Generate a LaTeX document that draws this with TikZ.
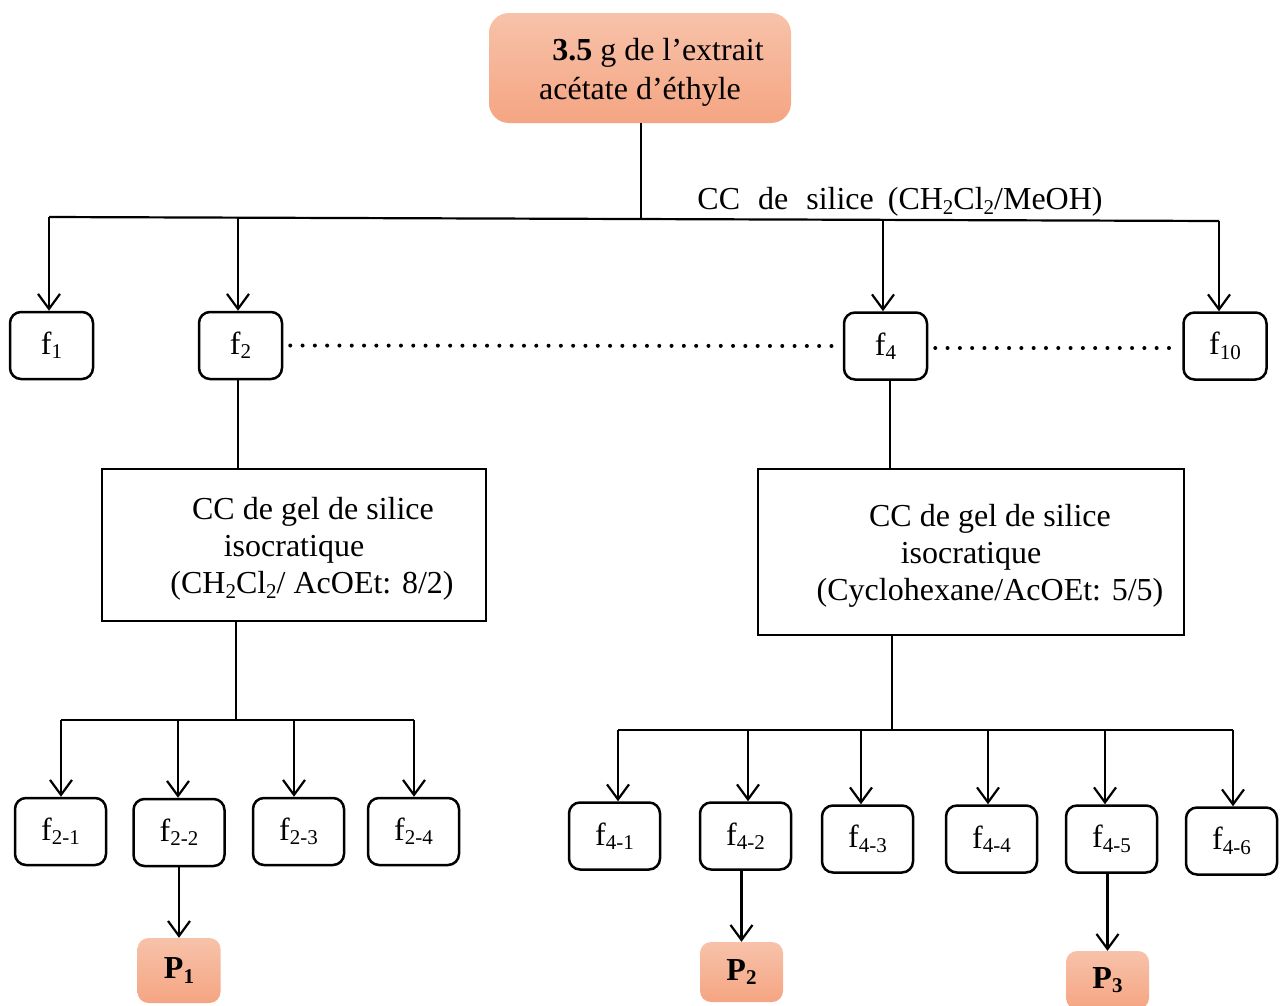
\documentclass[tikz,border=0pt]{standalone}
\usepackage{fontspec}
\setmainfont{Liberation Serif}
\usetikzlibrary{arrows.meta}
\newcommand\sbs[1]{\raisebox{-0.3ex}{\fontsize{21}{21}\selectfont #1}}
\definecolor{salmonT}{RGB}{247,194,170}
\definecolor{salmonB}{RGB}{245,165,130}
\begin{document}
\begin{tikzpicture}[x=1pt,y=-1pt,
  font=\fontsize{32}{37}\selectfont,
  fbox/.style={draw, line width=2.5pt, rounded corners=11pt, minimum width=83pt, minimum height=67pt, inner sep=0pt},
  gbox/.style={fbox, minimum width=91pt},
  pbox/.style={rounded corners=11pt, top color=salmonT, bottom color=salmonB, minimum width=83pt, inner sep=0pt, font=\fontsize{32}{37}\selectfont\bfseries},
  tbox/.style={draw, line width=2.5pt, inner sep=0pt},
  intext/.style={align=center, yshift=-4pt},
  ln/.style={line width=2.2pt},
  arr/.style={ln, -{Straight Barb[length=15pt,width=22pt]}},
  dots/.style={line width=4pt, line cap=round, dash pattern=on 0pt off 12.3pt}]
\useasboundingbox (0,0) rectangle (1280,1005);

% source
\node[rounded corners=20pt, top color=salmonT, bottom color=salmonB, minimum width=302pt, minimum height=110pt, inner sep=0pt,
  label={[intext, font=\fontsize{32}{39}\selectfont]center:{\hspace*{36pt}\textbf{3.5} g de l’extrait\\acétate d’éthyle}}] (src) at (640,68) {};

% first level
\coordinate (hL) at (49,217);
\coordinate (hR) at (1219,221);
\coordinate (hM) at (641,218.5);
\coordinate (j2) at (238,218);
\coordinate (j4) at (883,219.5);
\draw[ln] (src.south -| hM) -- (hM);
\draw[ln] (hL) -- (hR);
\node (cclab) at (900,202) {CC\hspace{18pt}de\hspace{18pt}silice\hspace{14pt}(CH\sbs{2}Cl\sbs{2}/MeOH)};

\node[fbox] (f1) at (51.5,345.5) {f\sbs{1}};
\node[fbox] (f2) at (240.5,345.5) {f\sbs{2}};
\node[fbox] (f4) at (885.5,346) {f\sbs{4}};
\node[fbox] (f10) at (1225,346) {f\sbs{10}};

\draw[arr] (hL) -- (hL |- f1.north);
\draw[arr] (j2) -- (j2 |- f2.north);
\draw[arr] (j4) -- (j4 |- f4.north);
\draw[arr] (hR) -- (hR |- f10.north);

\draw[dots] ([xshift=7pt]f2.east) -- ([xshift=-6pt]f4.west);
\draw[dots] ([xshift=7pt,yshift=-2pt]f4.east) -- ([xshift=-6pt,yshift=-2pt]f10.west);

% left branch
\node[tbox, minimum width=384pt, minimum height=152pt,
  label={[intext]center:{\hspace*{38pt}CC de gel de silice\\isocratique\\\hspace*{36pt}(CH\sbs{2}Cl\sbs{2}/ AcOEt: 8/2)}}] (tb1) at (294,545) {};
\draw[ln] (f2.south -| j2) -- (j2 |- tb1.north);

\coordinate (k) at (236,720);
\coordinate (kL) at (61,720);
\coordinate (k2) at (178,720);
\coordinate (k3) at (294,720);
\coordinate (kR) at (414,720);
\draw[ln] (tb1.south -| k) -- (k);
\draw[ln] (kL) -- (kR);

\node[gbox] (f21) at (60.5,831.5) {f\sbs{2-1}};
\node[gbox] (f22) at (179,832.5) {f\sbs{2-2}};
\node[gbox] (f23) at (298.5,831.5) {f\sbs{2-3}};
\node[gbox] (f24) at (413.5,831.5) {f\sbs{2-4}};
\draw[arr] (kL) -- (kL |- f21.north);
\draw[arr] (k2) -- (k2 |- f22.north);
\draw[arr] (k3) -- (k3 |- f23.north);
\draw[arr] (kR) -- (kR |- f24.north);

\node[pbox, minimum height=65pt] (p1) at (179,970.5) {P\sbs{1}};
\draw[arr] (f22.south) -- (p1.north);

% right branch
\node[tbox, minimum width=426pt, minimum height=166pt,
  label={[intext]center:{\hspace*{38pt}CC de gel de silice\\isocratique\\\hspace*{38pt}(Cyclohexane/AcOEt: 5/5)}}] (tb2) at (971,552) {};
\coordinate (n4) at (890,380);
\draw[ln] (f4.south -| n4) -- (n4 |- tb2.north);

\coordinate (m) at (892,730);
\coordinate (mL) at (618,730);
\coordinate (m2) at (748,730);
\coordinate (m3) at (861,730);
\coordinate (m4) at (988,730);
\coordinate (m5) at (1105,730);
\coordinate (mR) at (1233,730);
\draw[ln] (tb2.south -| m) -- (m);
\draw[ln] (mL) -- (mR);

\node[gbox] (f41) at (614.5,836) {f\sbs{4-1}};
\node[gbox] (f42) at (745.5,836) {f\sbs{4-2}};
\node[gbox] (f43) at (867.5,839) {f\sbs{4-3}};
\node[gbox] (f44) at (991.5,839) {f\sbs{4-4}};
\node[gbox] (f45) at (1111.5,839) {f\sbs{4-5}};
\node[gbox] (f46) at (1231.5,841) {f\sbs{4-6}};
\draw[arr] (mL) -- (mL |- f41.north);
\draw[arr] (m2) -- (m2 |- f42.north);
\draw[arr] (m3) -- (m3 |- f43.north);
\draw[arr] (m4) -- (m4 |- f44.north);
\draw[arr] (m5) -- (m5 |- f45.north);
\draw[arr] (mR) -- (mR |- f46.north);

\node[pbox, minimum height=60pt] (p2) at (741.5,972) {P\sbs{2}};
\node[pbox, minimum height=58pt] (p3) at (1107.5,980) {P\sbs{3}};
\draw[arr] (p2.north |- f42.south) -- (p2.north);
\draw[arr] (p3.north |- f45.south) -- (p3.north);
\end{tikzpicture}
\end{document}
